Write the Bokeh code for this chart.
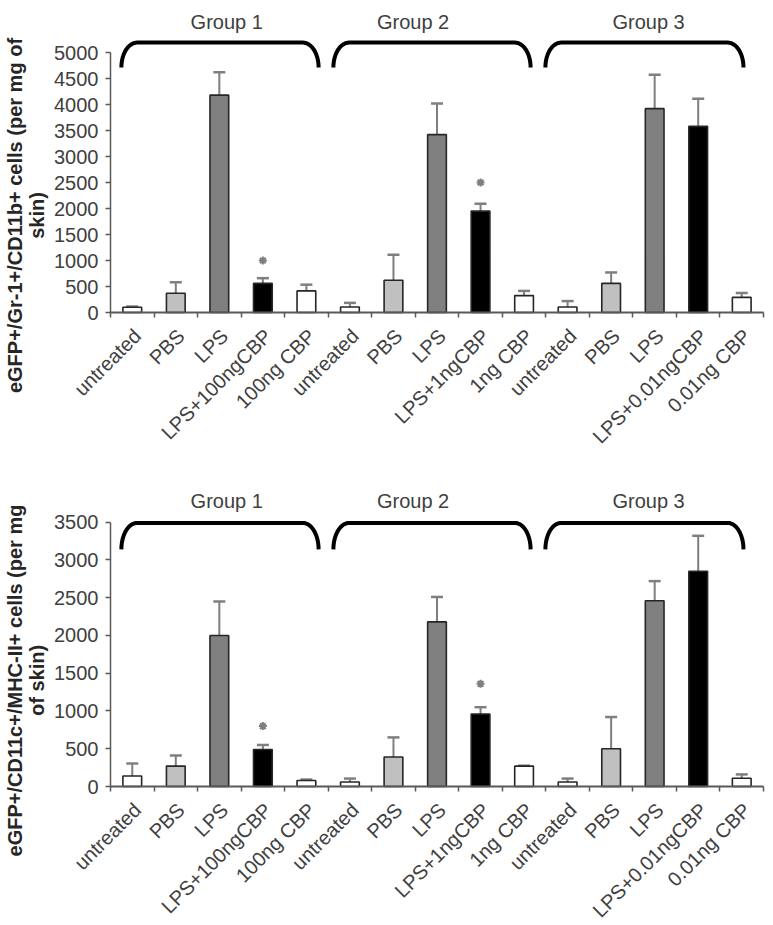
import numpy as np
from bokeh.plotting import figure
from bokeh.models import ColumnDataSource, FixedTicker, Whisker, TeeHead, Range1d
from bokeh.layouts import column
from bokeh.embed import file_html
from bokeh.resources import INLINE
from bokeh.core.properties import value

# ---------------- data ----------------
categories = ["untreated", "PBS", "LPS", "LPS+100ngCBP", "100ng CBP",
              "untreated", "PBS", "LPS", "LPS+1ngCBP", "1ng CBP",
              "untreated", "PBS", "LPS", "LPS+0.01ngCBP", "0.01ng CBP"]
bar_colors = ["#FFFFFF", "#C0C0C0", "#808080", "#000000", "#FFFFFF"] * 3
group_names = ["Group 1", "Group 2", "Group 3"]

top_means = [100, 370, 4180, 560, 415, 105, 620, 3420, 1950, 325, 105, 560, 3920, 3580, 290]
top_err = [15, 210, 440, 100, 120, 80, 490, 600, 140, 90, 115, 210, 650, 530, 85]
top_sig = [None, None, None, 1000, None, None, None, None, 2500, None, None, None, None, None, None]
top_ticks = list(range(0, 5001, 500))
top_label = "eGFP+/Gr-1+/CD11b+ cells (per mg of\nskin)"

bot_means = [140, 270, 2000, 490, 80, 60, 390, 2180, 960, 270, 60, 500, 2460, 2850, 110]
bot_err = [165, 140, 450, 60, 12, 45, 260, 330, 90, 6, 45, 420, 260, 470, 50]
bot_sig = [None, None, None, 800, None, None, None, None, 1360, None, None, None, None, None, None]
bot_ticks = list(range(0, 3501, 500))
bot_label = "eGFP+/CD11c+/MHC-II+ cells (per mg\nof skin)"

# ---------------- layout geometry (pixels / data offsets) ----------------
N = len(categories)
PX_PER_CAT = 653 / N          # category width in pixels
AXIS_LEFT_PX = 110            # where the value axis sits
FIG_W = 765
x_start = 0.5 - AXIS_LEFT_PX / PX_PER_CAT
x_end = x_start + FIG_W / PX_PER_CAT

brace_left = [0.75, 5.62, 10.49]
brace_right = [5.28, 10.15, 15.04]
title_x = [3.17, 7.45, 12.86]
label_shift = 0.12            # category labels sit slightly right of bar centre
ytitle_x = x_start + 25 / PX_PER_CAT

FONT = "Liberation Sans"
AX = "#595959"
TXT = "#404040"


def brace_path(x0, x1, ytop, ybot, rx):
    t1 = np.linspace(np.pi, np.pi / 2, 20)
    t2 = np.linspace(np.pi / 2, 0, 20)
    ry = ytop - ybot
    xs = list(x0 + rx + rx * np.cos(t1)) + list(x1 - rx + rx * np.cos(t2))
    ys = list(ybot + ry * np.sin(t1)) + list(ybot + ry * np.sin(t2))
    return xs, ys


def make_panel(means, errs, sig, ticks, label, height, zero_px, px_per_unit,
               brace_top, brace_bot, title_y, label_y):
    xs = list(range(1, N + 1))
    y_end = zero_px / px_per_unit
    y_start = -(height - zero_px) / px_per_unit
    p = figure(width=FIG_W, height=height, x_range=Range1d(x_start, x_end),
               y_range=Range1d(y_start, y_end),
               min_border_left=0, min_border_right=0, min_border_top=0,
               min_border_bottom=0, output_backend="svg", toolbar_location=None)
    p.outline_line_color = None
    p.xgrid.grid_line_color = None
    p.ygrid.grid_line_color = None
    p.background_fill_color = "white"
    p.border_fill_color = "white"

    src = ColumnDataSource(dict(x=xs, top=means,
                                upper=[m + e for m, e in zip(means, errs)],
                                color=bar_colors))
    p.vbar(x="x", top="top", bottom=0, width=0.43, fill_color="color",
           line_color="#262626", line_width=1.6, source=src)
    w = Whisker(base="x", lower="top", upper="upper", source=src,
                line_color="#7f7f7f", line_width=2,
                upper_head=TeeHead(size=12, line_color="#7f7f7f", line_width=2.5),
                lower_head=None)
    p.add_layout(w)

    sx = [x for x, s in zip(xs, sig) if s is not None]
    sy = [s for s in sig if s is not None]
    p.scatter(sx, sy, marker="asterisk", size=8, line_color="#7f7f7f", line_width=2)

    bxs, bys = [], []
    for l, r in zip(brace_left, brace_right):
        bx, by = brace_path(l, r, brace_top, brace_bot, 0.36)
        bxs.append(bx)
        bys.append(by)
    p.multi_line(bxs, bys, line_color="black", line_width=4)

    p.text(x=title_x, y=[title_y] * 3, text=group_names, text_align="center",
           text_baseline="alphabetic", text_font=value(FONT), text_font_size="20px",
           text_color=TXT)

    p.text(x=[ytitle_x], y=[label_y], text=[label], angle=np.pi / 2,
           text_align="center", text_baseline="middle", text_font=value(FONT),
           text_font_style="bold", text_font_size="20px", text_line_height=1.0,
           text_color="#262626")

    # y axis (pinned at the left edge of the categories)
    ya = p.yaxis[0]
    ya.fixed_location = 0.5
    ya.ticker = FixedTicker(ticks=ticks)
    ya.bounds = (0, ticks[-1])
    ya.axis_line_color = AX
    ya.axis_line_width = 1.5
    ya.major_tick_line_color = AX
    ya.major_tick_line_width = 1.5
    ya.major_tick_out = 5
    ya.major_tick_in = 0
    ya.minor_tick_line_color = None
    ya.major_label_text_font = FONT
    ya.major_label_text_font_size = "20px"
    ya.major_label_text_color = TXT
    ya.major_label_standoff = 7

    # x axis (pinned at zero)
    xa = p.xaxis[0]
    xa.fixed_location = 0
    xa.bounds = (0.5, N + 0.5)
    lx = [x + label_shift for x in xs]
    xa.ticker = FixedTicker(ticks=lx, minor_ticks=[i + 0.5 for i in range(N + 1)])
    xa.major_label_overrides = {x: c for x, c in zip(lx, categories)}
    xa.major_label_orientation = np.pi / 4
    xa.axis_line_color = AX
    xa.axis_line_width = 2
    xa.major_tick_line_color = None
    xa.major_tick_out = 0
    xa.major_tick_in = 0
    xa.minor_tick_line_color = AX
    xa.minor_tick_line_width = 1.5
    xa.minor_tick_out = 5
    xa.minor_tick_in = 0
    xa.major_label_text_font = FONT
    xa.major_label_text_font_size = "20px"
    xa.major_label_text_color = TXT
    xa.major_label_standoff = 15
    return p


p_top = make_panel(top_means, top_err, top_sig, top_ticks, top_label,
                   height=475, zero_px=312, px_per_unit=0.052,
                   brace_top=5190, brace_bot=4712, title_y=5596, label_y=1865)
p_bot = make_panel(bot_means, bot_err, bot_sig, bot_ticks, bot_label,
                   height=450, zero_px=311, px_per_unit=0.07551,
                   brace_top=3490, brace_bot=3140, title_y=3775, label_y=1404)

layout = column(p_top, p_bot, spacing=0)
open("out.html", "w").write(file_html(layout, INLINE))
